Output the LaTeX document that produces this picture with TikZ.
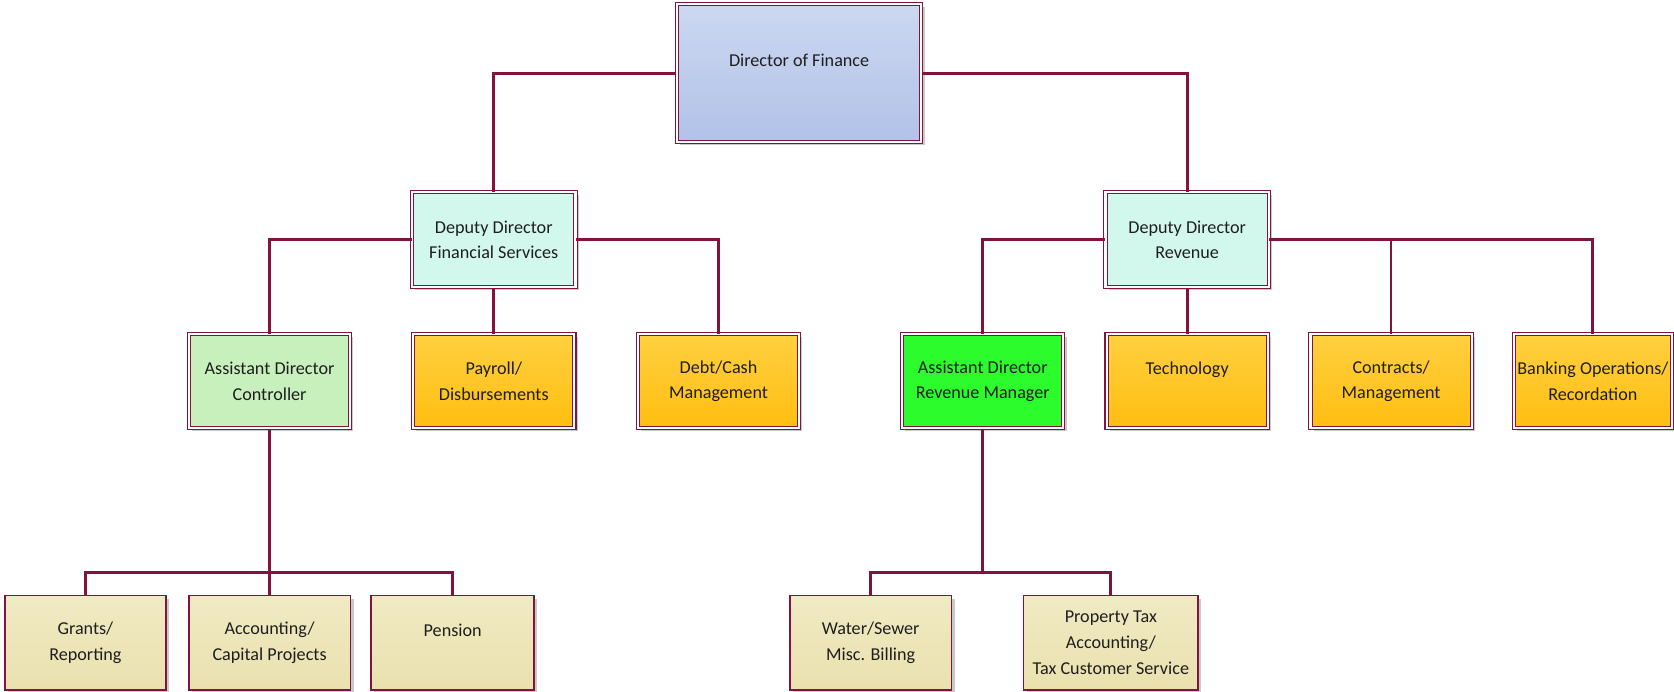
\documentclass[tikz,border=0pt]{standalone}
\usepackage{fontspec}
\setmainfont{Carlito}
\usetikzlibrary{shadows}
\definecolor{maroon}{RGB}{128,20,62}
\definecolor{dirtop}{RGB}{204,216,240}
\definecolor{dirbot}{RGB}{178,193,232}
\definecolor{depfill}{RGB}{210,248,238}
\definecolor{acfill}{RGB}{200,240,188}
\definecolor{orgtop}{RGB}{255,208,64}
\definecolor{orgbot}{RGB}{255,190,16}
\definecolor{armfill}{RGB}{44,252,44}
\definecolor{bottop}{RGB}{240,234,196}
\definecolor{botbot}{RGB}{234,225,174}
\definecolor{txt}{RGB}{30,30,30}
\tikzset{
  x=1pt, y=-1pt,
  basebox/.style={draw=maroon, double=white, double distance=2pt, line width=1pt,
    align=center, inner sep=0pt, text=txt,
    font=\fontsize{17}{24}\selectfont,
    drop shadow={shadow xshift=3pt, shadow yshift=-3pt, opacity=0.35, fill=black!60}},
  dirbox/.style={basebox, minimum width=229, minimum height=129, top color=dirtop, bottom color=dirbot},
  depbox/.style={basebox, minimum width=153, minimum height=89, fill=depfill},
  acbox/.style={basebox, minimum width=151, minimum height=88, fill=acfill},
  orgbox/.style={basebox, minimum width=151, minimum height=88, top color=orgtop, bottom color=orgbot},
  armbox/.style={basebox, minimum width=151, minimum height=88, fill=armfill},
  botbox/.style={draw=maroon, line width=1.5pt, align=center, inner sep=0pt, text=txt,
    font=\fontsize{17}{24}\selectfont, minimum height=88.5,
    top color=bottop, bottom color=botbot,
    drop shadow={shadow xshift=3pt, shadow yshift=-3pt, opacity=0.35, fill=black!60}},
  conn/.style={draw=maroon, line width=2.6pt}
}
\begin{document}
\begin{tikzpicture}
\useasboundingbox (0,0) rectangle (1568,648);
\coordinate (j1) at (252.5,536);
\coordinate (j2) at (920.5,536);
\node[dirbox] (dir) at (748.5,68.5) {Director of Finance\\\mbox{}};
\node[depbox] (dfs) at (462.5,224.5) {Deputy Director\\Financial Services};
\node[depbox] (drev) at (1112,224.5) {Deputy Director\\Revenue};
\node[acbox] (ac) at (252.5,357) {Assistant Director\\Controller};
\node[orgbox] (pay) at (462.5,357) {Payroll/\\Disbursements};
\node[orgbox] (debt) at (673,357) {Debt/Cash\\Management};
\node[armbox] (arm) at (920.5,357) {Assistant Director\\Revenue Manager};
\node[orgbox] (tech) at (1112,357) {Technology\\\mbox{}};
\node[orgbox] (con) at (1303,357) {Contracts/\\Management};
\node[orgbox, minimum width=148] (bank) at (1492,357) {Banking Operations/\\Recordation};
\node[botbox, minimum width=150.5] (grants) at (80,602) {Grants/\\Reporting};
\node[botbox, minimum width=151.5] (acc) at (252.5,602) {Accounting/\\Capital Projects};
\node[botbox, minimum width=152.5] (pen) at (424,602) {Pension\\\mbox{}};
\node[botbox, minimum width=151.5] (water) at (815.5,602) {Water/Sewer\\Misc. Billing};
\node[botbox, minimum width=163.5] (prop) at (1040.5,602) {Property Tax\\Accounting/\\Tax Customer Service};
\draw[conn] (dir.west) -| (dfs.north);
\draw[conn] (dir.east) -| (drev.north);
\draw[conn] (dfs.west) -| (ac.north);
\draw[conn] (dfs.east) -| (debt.north);
\draw[conn] (dfs.south) -- (pay.north);
\draw[conn] (drev.west) -| (arm.north);
\draw[conn] (drev.east) -| (bank.north);
\draw[conn] (drev.east) -| (con.north);
\draw[conn] (drev.south) -- (tech.north);
\draw[conn] (ac.south) -- (acc.north);
\draw[conn] (grants.north) -- (grants.north |- j1) -- (pen.north |- j1) -- (pen.north);
\draw[conn] (arm.south) -- (j2);
\draw[conn] (water.north) -- (water.north |- j2) -- (prop.north |- j2) -- (prop.north);
\end{tikzpicture}
\end{document}
